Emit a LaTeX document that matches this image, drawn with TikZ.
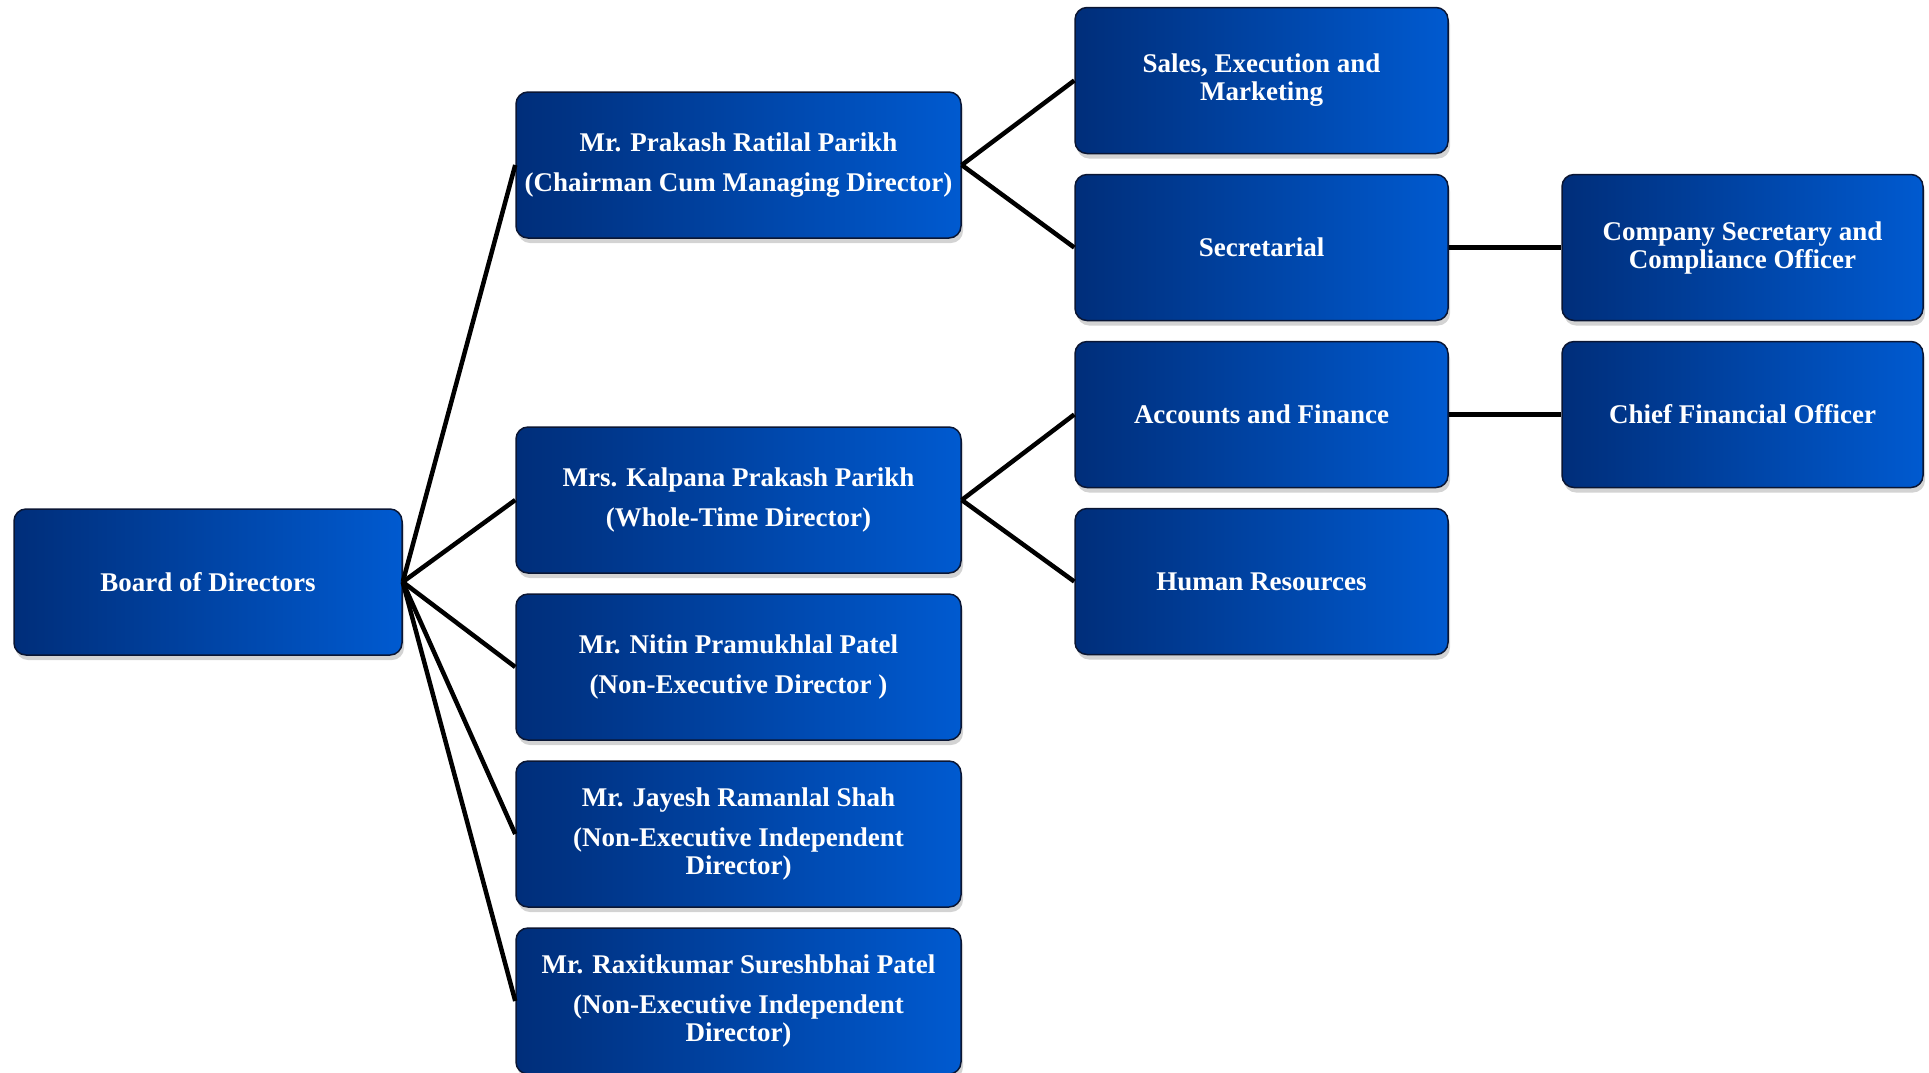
\documentclass[tikz,border=0pt]{standalone}
\usepackage{fontspec}
\setmainfont{Liberation Serif}
\usetikzlibrary{positioning,shadows}
\definecolor{boxdark}{RGB}{0,46,122}
\definecolor{boxlight}{RGB}{0,90,208}
\definecolor{boxline}{RGB}{10,22,52}
\tikzset{
  orgbox/.style={rectangle,rounded corners=12pt,draw=boxline,line width=1.5pt,
    left color=boxdark,right color=boxlight,text=white,align=center,
    minimum height=146pt,inner sep=2pt,
    font=\fontsize{27}{28}\selectfont\bfseries,
    drop shadow={shadow xshift=2pt,shadow yshift=-5pt,opacity=0.35}},
  link/.style={line width=4.5pt}
}
\begin{document}
\begin{tikzpicture}[x=1pt,y=-1pt]
                \useasboundingbox (0,0) rectangle (1929,1072);
                % board and directors
                \path (208,582) node[orgbox,minimum width=388pt] (board) {Board of Directors};
                \path (738.5,165) node[orgbox,minimum width=445pt] (prakash) {Mr. Prakash Ratilal Parikh\\[12pt](Chairman Cum Managing Director)};
                \path (738.5,500) node[orgbox,minimum width=445pt] (kalpana) {Mrs. Kalpana Prakash Parikh\\[12pt](Whole-Time Director)};
                \begin{scope}[node distance=167pt]
                  \path node[orgbox,minimum width=445pt,below of=kalpana] (nitin) {Mr. Nitin Pramukhlal Patel\\[12pt](Non-Executive Director )};
                  \path node[orgbox,minimum width=445pt,below of=nitin] (jayesh) {Mr. Jayesh Ramanlal Shah\\[12pt](Non-Executive Independent\\Director)};
                  \path node[orgbox,minimum width=445pt,below of=jayesh] (raxit) {Mr. Raxitkumar Sureshbhai Patel\\[12pt](Non-Executive Independent\\Director)};
                  % departments
                  \path (1261.5,80.5) node[orgbox,minimum width=373pt] (sales) {Sales, Execution and\\Marketing};
                  \path node[orgbox,minimum width=373pt,below of=sales] (secretarial) {Secretarial};
                  \path node[orgbox,minimum width=373pt,below of=secretarial] (accounts) {Accounts and Finance};
                  \path node[orgbox,minimum width=373pt,below of=accounts] (hr) {Human Resources};
                \end{scope}
                % officers
                \path node[orgbox,minimum width=361pt,right of=secretarial,node distance=481pt] (cs) {Company Secretary and\\Compliance Officer};
                \path node[orgbox,minimum width=361pt,right of=accounts,node distance=481pt] (cfo) {Chief Financial Officer};

                \begin{scope}[on background layer/.try]
                  \foreach \dir in {prakash,kalpana,nitin,jayesh,raxit}
                    \draw[link] (board.east) -- (\dir.west);
                  \draw[link] (prakash.east) -- (sales.west);
                  \draw[link] (prakash.east) -- (secretarial.west);
                  \draw[link] (kalpana.east) -- (accounts.west);
                  \draw[link] (kalpana.east) -- (hr.west);
                  \draw[link] (secretarial.east) -- (cs.west);
                  \draw[link] (accounts.east) -- (cfo.west);
                \end{scope}
              \end{tikzpicture}
\end{document}
